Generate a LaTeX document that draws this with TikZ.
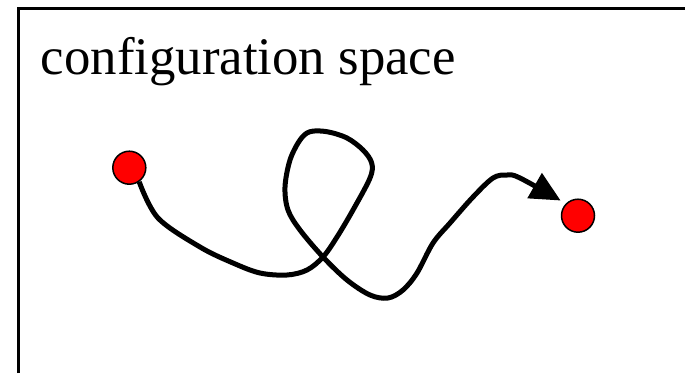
\documentclass[tikz,border=0pt]{standalone}
\usepackage{fontspec}
\setmainfont{Liberation Serif}
\usetikzlibrary{arrows.meta}

\begin{document}
\begin{tikzpicture}[x=1pt,y=-1pt,>={Triangle[length=30pt,width=28pt]},
  dot/.style={circle,draw=black,line width=1.5pt,fill=red,minimum size=33pt,inner sep=0pt},
  route/.style={->,line width=5pt,shorten >=6pt}]
\useasboundingbox (0,0) rectangle (685,373);
% frame, cut by the page on the right and at the bottom
\draw[line width=2.5pt] (18.7,373) -- (18.7,8.7) -- (685,8.7);
\node[anchor=base west,inner sep=0pt,font=\fontsize{52.8}{60}\selectfont] (title) at (40.7,74) {configuration space};
\node[dot] (start) at (129.3,167.7) {};
\node[dot] (goal) at (578,215.7) {};
% looping path from start to goal
\draw[route] plot[smooth,tension=0.55] coordinates {(start.-55) (158,218) (200,247) (233,263) (260,273) (287,275) (307,270) (323,257) (337,237) (353,210) (370,178) (371.7,163) (363,150) (347,138) (327,131.7) (310,131.7) (300,140) (290,160) (285,187) (288,210) (300,230) (323,257) (347,280) (370,295) (388,298) (403,290) (417,273) (433,243) (450,223) (473,197) (493,178) (507,175) (520,178) (goal.135)};
\end{tikzpicture}
\end{document}
